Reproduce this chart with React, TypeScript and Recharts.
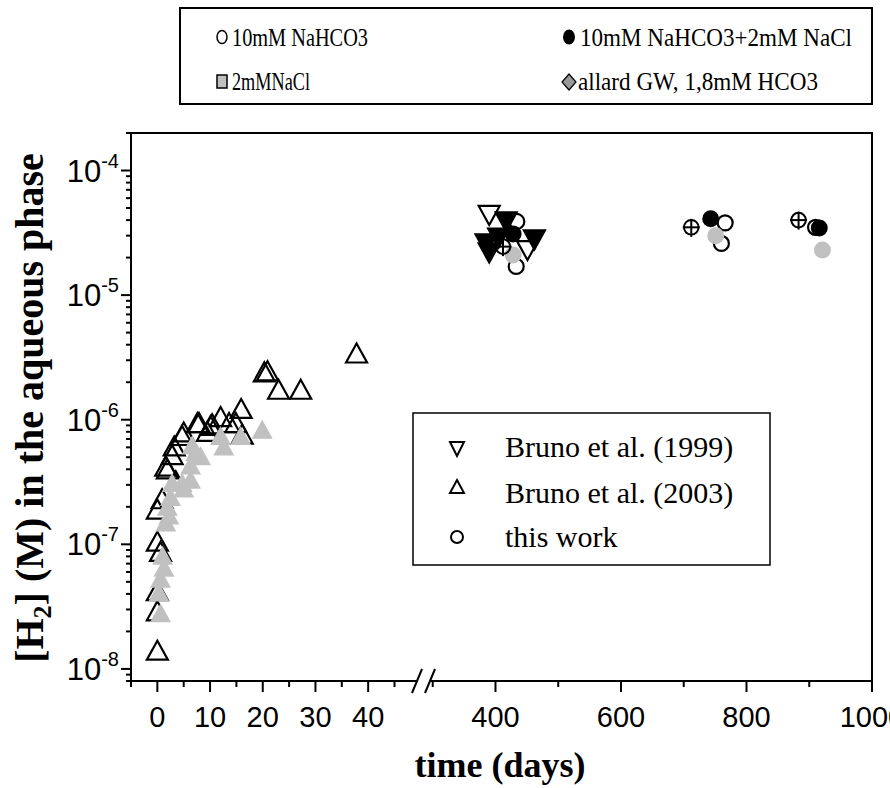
import React from 'react';
import { ScatterChart, Scatter, XAxis, YAxis } from 'recharts';

// ---------- data (days, [H2] in M) ----------
const bruno2003Open: [number, number][] = [
  [0, 1.4e-8], [0, 2.9e-8], [0, 4.2e-8], [0.6, 8.7e-8], [0, 1.05e-7], [0, 1.9e-7],
  [0.9, 2.3e-7], [1.6, 4.2e-7], [1.9, 4.0e-7], [2.8, 5.2e-7], [3.2, 6.1e-7], [3.5, 3.2e-7],
  [4.7, 7.4e-7], [5, 7.9e-7], [7.6, 9.4e-7], [7.9, 9.4e-7], [9.5, 8.0e-7], [10.1, 8.9e-7],
  [10.4, 9.2e-7], [12, 1.05e-6], [13.6, 9.4e-7], [14.9, 9.4e-7], [15.9, 1.22e-6], [16.1, 7.6e-7],
  [20.3, 2.4e-6], [20.9, 2.45e-6], [23, 1.74e-6], [27.2, 1.74e-6], [37.8, 3.4e-6],
];
const bruno2003Gray: [number, number][] = [
  [0.3, 4.1e-8], [0.6, 2.8e-8], [0.6, 5.3e-8], [1.0, 8.1e-8], [1.25, 6.5e-8], [1.6, 1.5e-7],
  [2.2, 1.7e-7], [1.9, 2.0e-7], [2.5, 2.4e-7], [2.8, 3.1e-7], [4.7, 3.1e-7], [5, 2.8e-7],
  [6.3, 3.3e-7], [6.3, 4.3e-7], [6.6, 6.2e-7], [7.3, 5.5e-7], [8.2, 5.1e-7], [12, 7.4e-7],
  [12.6, 6.1e-7], [15.8, 7.4e-7], [19.9, 8.3e-7],
];
const bruno1999Open: [number, number][] = [[390, 4.4e-5], [451, 2.3e-5]];
const bruno1999Filled: [number, number][] = [
  [417, 3.9e-5], [405, 2.9e-5], [385, 2.6e-5], [390, 2.2e-5], [462, 2.8e-5],
];
const thisWorkNaHCO3: [number, number][] = [
  [434, 3.9e-5], [433, 1.7e-5], [766, 3.8e-5], [760, 2.6e-5], [910, 3.5e-5],
];
const thisWorkGray: [number, number][] = [[428, 2.1e-5], [751, 3.0e-5], [921, 2.3e-5]];
const thisWorkBlack: [number, number][] = [[428, 3.1e-5], [743, 4.1e-5], [916, 3.45e-5]];
const thisWorkAllard: [number, number][] = [[412, 2.45e-5], [712, 3.5e-5], [883, 4.0e-5]];

// ---------- ticks ----------
const xMajorDays = [0, 10, 20, 30, 40, 400, 600, 800, 1000];
const xMinorDays = [-5, 5, 15, 25, 35, 45, 300, 500, 700, 900];
const yDecades = [-8, -7, -6, -5, -4];
const yMinorMult = [2, 3, 4, 5, 6, 7, 8, 9];
const topLegendLabels = ['10mM NaHCO3', '10mM NaHCO3+2mM NaCl', '2mMNaCl', 'allard GW, 1,8mM HCO3'];
const innerLegendLabels = ['Bruno et al. (1999)', 'Bruno et al. (2003)', 'this work'];

// ---------- broken axis transform ----------
const LEFT_MAX = 50;
const RATIO = 0.11907; // right-segment px/day relative to left
const U_AT_400 = 64.16;
const U_MIN = -5;
const U_MAX = U_AT_400 + 600 * RATIO;
const toAxis = (d: number) => (d <= LEFT_MAX ? d : U_AT_400 + (d - 400) * RATIO);
const conv = (arr: [number, number][]) => arr.map(([d, v]) => ({ u: toAxis(d), v }));

const xTicks = [...xMajorDays, ...xMinorDays].map(toAxis);
const xMajorSet = xMajorDays.map(toAxis);
const yMajorVals = yDecades.map((e) => Math.pow(10, e));
const yTicks: number[] = [];
[-9, ...yDecades].forEach((e) => {
  yTicks.push(Math.pow(10, e));
  yMinorMult.forEach((m) => yTicks.push(m * Math.pow(10, e)));
});
const Y_MIN = 8e-9, Y_MAX = 2e-4;
const yTicksIn = yTicks.filter((t) => t >= Y_MIN * 0.999 && t <= Y_MAX * 1.001);

const W = 890, H = 788;
const PL = 131, PR = 872, PT = 133, PB = 681;
const SANS = '"Liberation Sans", Arial, sans-serif';
const SERIF = '"Liberation Serif", "Times New Roman", serif';
const GRAY = '#c0c0c0';

// ---------- shapes ----------
const UpTri = (fill: string, stroke: string) => (p: any) => (
  <polygon
    points={`${p.cx},${p.cy - 10} ${p.cx - 10.5},${p.cy + 9} ${p.cx + 10.5},${p.cy + 9}`}
    fill={fill} stroke={stroke} strokeWidth={2.2} strokeLinejoin="miter"
  />
);
const DownTri = (fill: string, stroke: string) => (p: any) => (
  <polygon
    points={`${p.cx - 10.5},${p.cy - 9} ${p.cx + 10.5},${p.cy - 9} ${p.cx},${p.cy + 10}`}
    fill={fill} stroke={stroke} strokeWidth={2.2}
  />
);
const Circ = (fill: string, stroke: string, r: number) => (p: any) => (
  <circle cx={p.cx} cy={p.cy} r={r} fill={fill} stroke={stroke} strokeWidth={stroke === 'none' ? 0 : 2.2} />
);
const Cross = (p: any) => (
  <g stroke="#000" strokeWidth={2} fill="none">
    <circle cx={p.cx} cy={p.cy} r={7.3} />
    <line x1={p.cx - 8.5} y1={p.cy} x2={p.cx + 8.5} y2={p.cy} />
    <line x1={p.cx} y1={p.cy - 8.5} x2={p.cx} y2={p.cy + 9.5} />
  </g>
);

// ---------- ticks renderers ----------
const XTick = (p: any) => {
  const u = p.payload.value;
  const idx = xMajorSet.findIndex((m) => Math.abs(m - u) < 1e-6);
  const major = idx >= 0;
  return (
    <g>
      <line x1={p.x} x2={p.x} y1={PB} y2={PB + (major ? 11 : 6)} stroke="#000" strokeWidth={2} />
      {major && (
        <text x={p.x} y={PB + 46} textAnchor="middle" fontFamily={SANS} fontSize={29} fill="#000">
          {xMajorDays[idx]}
        </text>
      )}
    </g>
  );
};
const YTick = (p: any) => {
  const v = p.payload.value;
  const idx = yMajorVals.findIndex((m) => Math.abs(m - v) / m < 1e-6);
  const major = idx >= 0;
  return (
    <g>
      <line x1={PL} x2={PL - (major ? 10 : 5)} y1={p.y} y2={p.y} stroke="#000" strokeWidth={2} />
      {major && (
        <text x={PL - 12} y={p.y + 11} textAnchor="end" fontFamily={SANS} fontSize={31} fill="#000">
          10<tspan dy={-14} fontSize={20}>{String(yDecades[idx])}</tspan>
        </text>
      )}
    </g>
  );
};

const Overlay = () => (
  <svg width={W} height={H} style={{ position: 'absolute', left: 0, top: 0, pointerEvents: 'none' }}>
    {/* frame */}
    <g stroke="#000" strokeWidth={2} fill="none">
      <line x1={PL - 1} y1={PT} x2={PR + 1} y2={PT} />
      <line x1={PR} y1={PT} x2={PR} y2={PB + 1} />
      <line x1={PL - 1} y1={PB} x2={418} y2={PB} />
      <line x1={431} y1={PB} x2={PR + 1} y2={PB} />
      <line x1={412} y1={693} x2={422} y2={669} />
      <line x1={425} y1={693} x2={435} y2={669} />
    </g>
    {/* axis titles */}
    <text x={500} y={777} textAnchor="middle" fontFamily={SERIF} fontWeight="bold" fontSize={36} fill="#000">
      time (days)
    </text>
    <text transform="translate(43,408) rotate(-90)" textAnchor="middle" fontFamily={SERIF} fontWeight="bold" fontSize={40} fill="#000">
      [H<tspan dy={8} fontSize={26}>2</tspan><tspan dy={-8}>] (M) in the aqueous phase</tspan>
    </text>
    {/* top legend */}
    <rect x={180} y={8} width={692} height={96} fill="#fff" stroke="#000" strokeWidth={2} />
    <ellipse cx={222} cy={37} rx={5} ry={6.5} fill="#fff" stroke="#000" strokeWidth={1.5} />
    <text x={232} y={46} fontFamily={SERIF} fontSize={25} textLength={136} lengthAdjust="spacingAndGlyphs">{topLegendLabels[0]}</text>
    <ellipse cx={569} cy={37} rx={6} ry={7.5} fill="#000" />
    <text x={580} y={46} fontFamily={SERIF} fontSize={25} textLength={272} lengthAdjust="spacingAndGlyphs">{topLegendLabels[1]}</text>
    <rect x={217} y={75} width={10} height={13} fill={GRAY} stroke="#000" strokeWidth={1.5} />
    <text x={232} y={90} fontFamily={SERIF} fontSize={25} textLength={78} lengthAdjust="spacingAndGlyphs">{topLegendLabels[2]}</text>
    <polygon points="569,74 576,82 569,90 562,82" fill="#999" stroke="#000" strokeWidth={1.2} />
    <text x={578} y={90} fontFamily={SERIF} fontSize={25} textLength={240} lengthAdjust="spacingAndGlyphs">{topLegendLabels[3]}</text>
    {/* inner legend */}
    <rect x={413} y={413} width={357} height={152} fill="#fff" stroke="#000" strokeWidth={1.5} />
    <polygon points="450,442 464,442 457,456" fill="none" stroke="#000" strokeWidth={2} />
    <text x={505} y={457} fontFamily={SERIF} fontSize={30}>{innerLegendLabels[0]}</text>
    <polygon points="457,480 464,493 450,493" fill="none" stroke="#000" strokeWidth={2} />
    <text x={505} y={503} fontFamily={SERIF} fontSize={30}>{innerLegendLabels[1]}</text>
    <circle cx={457} cy={537} r={6} fill="none" stroke="#000" strokeWidth={2} />
    <text x={505} y={547} fontFamily={SERIF} fontSize={30}>{innerLegendLabels[2]}</text>
  </svg>
);

export default function App() {
  return (
    <div style={{ position: 'absolute', left: 0, top: 0, width: W, height: H, overflow: 'hidden', background: '#fff' }}>
      <ScatterChart width={W} height={H} margin={{ top: PT, right: W - PR, bottom: H - PB - 60, left: 0 }}>
        <XAxis
          type="number" dataKey="u" domain={[U_MIN, U_MAX]} allowDataOverflow
          ticks={xTicks} interval={0} tick={XTick} tickLine={false} axisLine={false}
          tickSize={0} tickMargin={0} height={60}
        />
        <YAxis
          type="number" dataKey="v" scale="log" domain={[Y_MIN, Y_MAX]} allowDataOverflow
          ticks={yTicksIn} interval={0} tick={YTick} tickLine={false}
          axisLine={{ stroke: '#000', strokeWidth: 2 }} tickSize={0} tickMargin={0} width={PL}
        />
        <Scatter data={conv(bruno2003Open)} shape={UpTri('none', '#000')} isAnimationActive={false} />
        <Scatter data={conv(bruno2003Gray)} shape={UpTri(GRAY, 'none')} isAnimationActive={false} />
        <Scatter data={conv(bruno1999Open)} shape={DownTri('none', '#000')} isAnimationActive={false} />
        <Scatter data={conv(bruno1999Filled)} shape={DownTri('#000', '#000')} isAnimationActive={false} />
        <Scatter data={conv(thisWorkNaHCO3)} shape={Circ('none', '#000', 7.5)} isAnimationActive={false} />
        <Scatter data={conv(thisWorkGray)} shape={Circ(GRAY, 'none', 8.5)} isAnimationActive={false} />
        <Scatter data={conv(thisWorkBlack)} shape={Circ('#000', 'none', 8.5)} isAnimationActive={false} />
        <Scatter data={conv(thisWorkAllard)} shape={Cross} isAnimationActive={false} />
      </ScatterChart>
      <Overlay />
    </div>
  );
}
